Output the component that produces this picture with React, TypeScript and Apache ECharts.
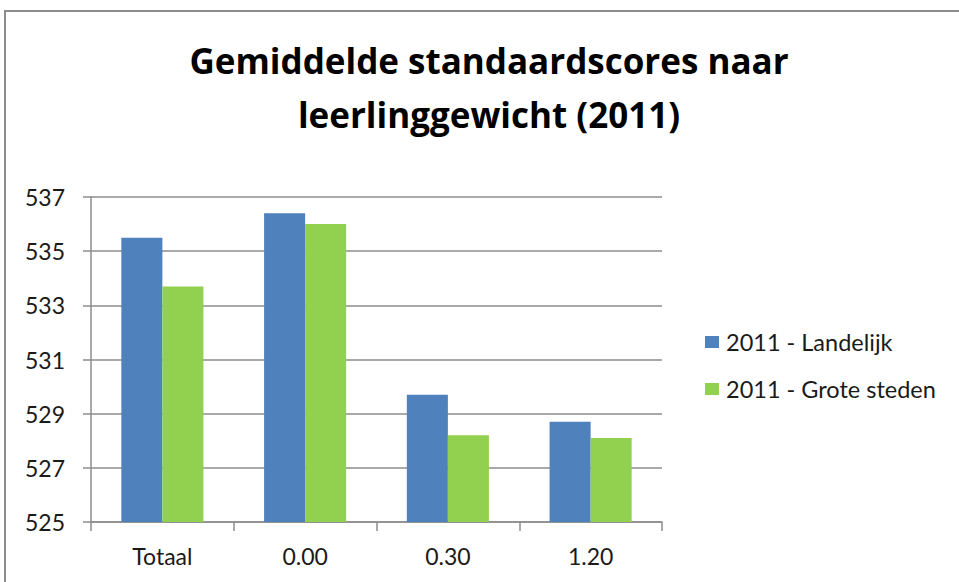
import React, { useEffect, useRef } from "react";
import * as echarts from "echarts";

const categories = ["Totaal", "0.00", "0.30", "1.20"];
const landelijk = [535.5, 536.4, 529.7, 528.7];
const groteSteden = [533.7, 536.0, 528.2, 528.1];
const seriesNames = ["2011 - Landelijk", "2011 - Grote steden"];
const titleText = "Gemiddelde standaardscores naar\nleerlinggewicht (2011)";

const FONT = "Lato, 'Open Sans', sans-serif";
const TITLE_FONT = "'Open Sans', 'Noto Sans', sans-serif";

export default function App() {
  const ref = useRef<HTMLDivElement>(null);
  useEffect(() => {
    if (!ref.current) return;
    const chart = echarts.init(ref.current, undefined, { renderer: "svg" });
    chart.setOption({
      animation: false,
      backgroundColor: "#ffffff",
      textStyle: { fontFamily: FONT },
      title: {
        text: titleText,
        left: 489,
        top: 33,
        textAlign: "center",
        padding: 0,
        textStyle: {
          fontFamily: TITLE_FONT,
          fontSize: 35,
          fontWeight: "bold",
          color: "#000000",
          lineHeight: 54,
        },
      },
      graphic: [
        {
          type: "rect",
          shape: { x: 5, y: 11, width: 1000, height: 700 },
          style: { fill: "none", stroke: "#8c8c8c", lineWidth: 2 },
          silent: true,
          z: 100,
        },
      ],
      legend: {
        orient: "vertical",
        left: 705,
        top: 330,
        itemWidth: 14,
        itemHeight: 12,
        itemGap: 23,
        icon: "rect",
        padding: 0,
        textStyle: { fontFamily: FONT, fontSize: 23.5, color: "#1a1a1a", padding: [0, 0, 0, 2] },
        data: seriesNames,
      },
      grid: { left: 91, right: 297, top: 197, bottom: 60, containLabel: false },
      xAxis: {
        type: "category",
        data: categories,
        axisLine: { show: true, lineStyle: { color: "#8c8c8c", width: 1.5 } },
        axisTick: { show: true, length: 9, lineStyle: { color: "#8c8c8c", width: 1.5 } },
        axisLabel: { fontFamily: FONT, fontSize: 23, color: "#1a1a1a", margin: 22 },
      },
      yAxis: {
        type: "value",
        min: 525,
        max: 537,
        interval: 2,
        axisLine: { show: true, lineStyle: { color: "#8c8c8c", width: 1.5 } },
        axisTick: { show: true, length: 8, lineStyle: { color: "#8c8c8c", width: 1.5 } },
        splitLine: { show: true, lineStyle: { color: "#8c8c8c", width: 1.5 } },
        axisLabel: { fontFamily: FONT, fontSize: 23, color: "#1a1a1a", margin: 26 },
      },
      series: [
        {
          name: seriesNames[0],
          type: "bar",
          data: landelijk,
          barGap: "0%",
          barCategoryGap: "42.5%",
          itemStyle: { color: "#4f81bd" },
        },
        {
          name: seriesNames[1],
          type: "bar",
          data: groteSteden,
          barGap: "0%",
          barCategoryGap: "42.5%",
          itemStyle: { color: "#92d050" },
        },
      ],
    });
    return () => chart.dispose();
  }, []);
  return (
    <div
      ref={ref}
      style={{ position: "absolute", left: 0, top: 0, width: 959, height: 582 }}
    />
  );
}
